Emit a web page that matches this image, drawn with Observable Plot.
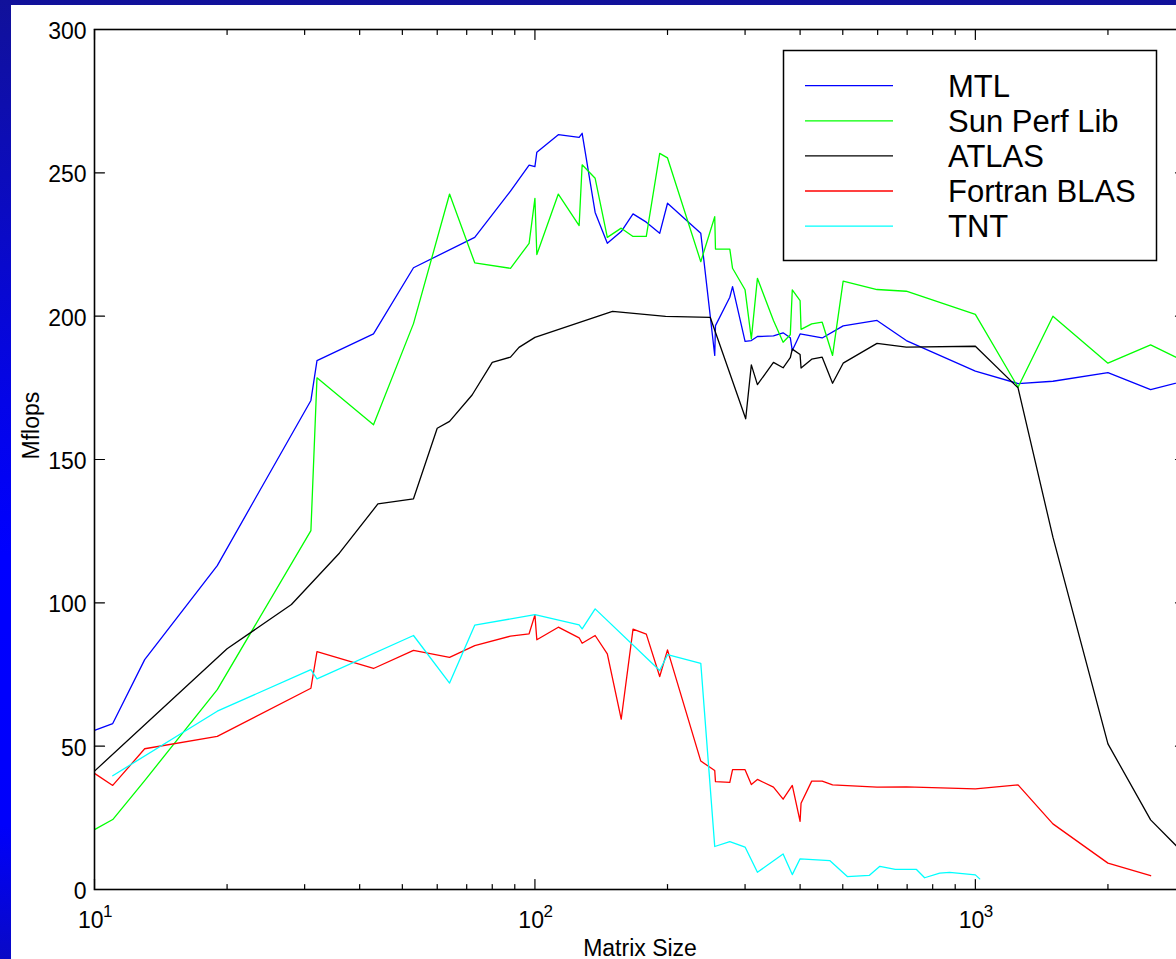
<!DOCTYPE html>
<html>
<head>
<meta charset="utf-8">
<script src="https://cdn.jsdelivr.net/npm/d3@7"></script>
<script src="https://cdn.jsdelivr.net/npm/@observablehq/plot@0.6"></script>
<style>
  html, body { margin: 0; padding: 0; width: 1176px; height: 959px; overflow: hidden; }
  body {
    position: relative;
    background: linear-gradient(to bottom, #11119a 0%, #0b0bc2 22%, #0404e8 42%, #0000ff 58%, #0000fb 86%, #0909c6 100%);
    font-family: "Liberation Sans", Arial, Helvetica, sans-serif;
  }
  #panel { position: absolute; left: 11px; top: 5px; right: 0; bottom: 0; background: #ffffff; }
  #chart { position: absolute; left: 0; top: 0; width: 1176px; height: 959px; overflow: hidden; }
  #legend { position: absolute; left: 0; top: 0; }
</style>
</head>
<body>
<div id="panel"></div>
<div id="chart"></div>
<div id="legend"></div>
<script>
// ---------------- data ----------------
const seriesNames  = ["MTL", "Sun Perf Lib", "ATLAS", "Fortran BLAS", "TNT"];
const seriesColors = ["#0000ff", "#00ff00", "#000000", "#ff0000", "#00ffff"];

const mtlSize   = [10,11,13,19,31,32,43,53,73,88,97,100,101,113,126,128,137,146,157,167,179,192,200,238,256,257,277,281,300,310,320,348,366,380,384,400,449,501,598,697,1000,1250,1500,2000,2500,3000];
const mtlMflops = [55.5,57.9,80.2,113,170.6,184.5,193.8,216.9,227.5,243.6,252.7,252.2,257.2,263.3,262.4,263.8,236.2,225.4,229.5,235.7,232.8,228.9,239.4,228.9,186.3,196.7,206.6,210.3,191.2,191.5,192.9,193.1,194.2,192.5,188,193.8,192.4,196.6,198.5,191.5,180.8,176.5,177.3,180.3,174.4,177.5];

const sunSize   = [10,11,13,19,31,32,43,53,64,73,88,97,100,101,113,126,128,137,146,157,167,179,192,200,238,256,257,277,281,300,310,320,348,366,380,384,400,402,425,449,474,501,598,697,1000,1250,1500,2000,2500,3000];
const sunMflops = [20.9,24.4,38,69.7,125.2,178.5,162.1,197.4,242.6,218.6,216.7,225.4,241.1,221.5,242.6,231.6,252.8,248.1,227.5,230.7,227.8,227.8,256.8,255.2,219,234.7,223.4,223.4,216.7,209.2,192.1,213.2,198.5,190.9,193.5,209.2,205.4,195.4,197.3,197.9,186.3,212.2,209.3,208.7,200.6,175.2,200,183.6,190,184];

const atlasSize   = [10,20,28,36,44,53,60,64,72,80,88,92,100,150,198,250,301,310,320,348,366,380,384,400,402,425,449,474,501,598,697,1000,1250,1500,2000,2500,3000];
const atlasMflops = [41.3,84,99.4,117.4,134.5,136.3,160.9,163.3,172.5,183.9,185.7,189.1,192.6,201.7,199.9,199.6,164.2,183,176.1,183.9,182,185.5,188.5,186.6,181.9,185,185.7,176.6,183.6,190.5,189.2,189.5,175,122.9,50.8,24.3,12];

const blasSize   = [10,11,13,19,31,32,43,53,64,73,88,97,100,101,113,126,128,137,146,157,167,179,192,200,238,256,257,277,281,300,310,320,348,366,384,400,402,425,449,474,598,697,1000,1250,1500,2000,2500];
const blasMflops = [40.5,36.3,49.1,53.4,70.2,83,77.1,83.4,81,85.1,88.4,89.2,95.8,87.1,91.5,87.8,85.9,88.6,82.2,59.4,90.8,89.1,74.3,83.6,44.8,41.5,37.6,37.4,41.8,41.8,36.6,38.4,35.7,31.5,36.3,23.8,30.1,37.8,37.8,36.5,35.7,35.8,35.1,36.5,22.9,9.2,4.8];

const tntSize   = [11,19,31,32,53,64,73,100,126,128,137,192,200,238,256,277,300,320,366,384,400,467,512,574,607,658,735,767,830,874,1000,1023];
const tntMflops = [39.7,62.2,76.7,73.5,88.6,72,92.2,95.9,92.3,90.9,97.9,76.4,81.9,78.9,15,16.7,14.8,6,12.4,5.2,10.7,10.1,4.5,4.9,8.1,7,7,4.1,5.7,6,5.1,3.7];

const yTicks     = [0, 50, 100, 150, 200, 250, 300];
const xMajor     = [10, 100, 1000];
const xMinor     = [20,30,40,50,60,70,80,90,200,300,400,500,600,700,800,900,2000];
const xTickBase  = ["10", "10", "10"];
const xTickExp   = ["1", "2", "3"];
const xLabel = "Matrix Size";
const yLabel = "Mflops";

// ---------------- build table ----------------
const sizes  = [mtlSize, sunSize, atlasSize, blasSize, tntSize];
const values = [mtlMflops, sunMflops, atlasMflops, blasMflops, tntMflops];
const rows = [];
seriesNames.forEach((name, s) => {
  sizes[s].forEach((n, i) => rows.push({series: name, n, v: values[s][i]}));
});
const xMajorRows = xMajor.map((x, i) => ({x, base: xTickBase[i], exp: xTickExp[i]}));

// straight tick shape for vectors (drawn upward, then rotated)
const tickShape = { draw(ctx, l) { ctx.moveTo(0, 0); ctx.lineTo(0, -l); } };

const FONT = "Liberation Sans, Arial, Helvetica, sans-serif";
const W = 1200;

const chart = Plot.plot({
  width: W,
  height: 959,
  marginLeft: 94,
  marginRight: W - 1185,
  marginTop: 29,
  marginBottom: 70,
  x: {type: "log", domain: [10, 3000], axis: null},
  y: {domain: [0, 300], axis: null},
  color: {domain: seriesNames, range: seriesColors},
  style: {background: "transparent", maxWidth: "none", fontFamily: FONT, color: "black", overflow: "visible"},
  marks: [
    Plot.line(rows, {x: "n", y: "v", z: "series", stroke: "series", strokeWidth: 1.3, clip: true}),
    // ticks
    Plot.vector(yTicks, {y: d => d, frameAnchor: "left", rotate: 90, length: 10, anchor: "start", shape: tickShape, stroke: "black", strokeWidth: 1.2}),
    Plot.vector(yTicks, {y: d => d, frameAnchor: "right", rotate: -90, length: 10, anchor: "start", shape: tickShape, stroke: "black", strokeWidth: 1.2}),
    Plot.vector(xMajor, {x: d => d, frameAnchor: "bottom", rotate: 0, length: 10, anchor: "start", shape: tickShape, stroke: "black", strokeWidth: 1.2}),
    Plot.vector(xMajor, {x: d => d, frameAnchor: "top", rotate: 180, length: 10, anchor: "start", shape: tickShape, stroke: "black", strokeWidth: 1.2}),
    Plot.vector(xMinor, {x: d => d, frameAnchor: "bottom", rotate: 0, length: 5, anchor: "start", shape: tickShape, stroke: "black", strokeWidth: 1.2}),
    Plot.vector(xMinor, {x: d => d, frameAnchor: "top", rotate: 180, length: 5, anchor: "start", shape: tickShape, stroke: "black", strokeWidth: 1.2}),
    Plot.frame({stroke: "black", strokeWidth: 1.6}),
    // tick labels
    Plot.text(yTicks, {y: d => d, text: d => String(d), frameAnchor: "left", dx: -8, dy: 2, textAnchor: "end", fontSize: 23, fill: "black"}),
    Plot.text(xMajorRows, {x: "x", text: "base", frameAnchor: "bottom", dy: 38, lineAnchor: "bottom", textAnchor: "end", dx: 9, fontSize: 23, fill: "black"}),
    Plot.text(xMajorRows, {x: "x", text: "exp", frameAnchor: "bottom", dy: 27, lineAnchor: "bottom", textAnchor: "start", dx: 8.5, fontSize: 17, fill: "black"}),
    // axis titles
    Plot.text([xLabel], {text: d => d, frameAnchor: "bottom", dy: 66, lineAnchor: "bottom", fontSize: 23, fill: "black"}),
    Plot.text([yLabel], {text: d => d, frameAnchor: "left", dx: -63, rotate: -90, fontSize: 23, fill: "black"})
  ]
});
document.getElementById("chart").append(chart);

// ---------------- legend (inside the axes, top right) ----------------
const lg = d3.select("#legend").append("svg")
  .attr("width", 1176).attr("height", 300)
  .style("display", "block")
  .style("font-family", FONT);
lg.append("rect")
  .attr("x", 783.5).attr("y", 50.5).attr("width", 373).attr("height", 210)
  .attr("fill", "white").attr("stroke", "black").attr("stroke-width", 1.5);
const items = lg.selectAll("g.item").data(seriesNames).join("g")
  .attr("class", "item")
  .attr("transform", (d, i) => `translate(0, ${85.7 + i * 35.1})`);
items.append("line")
  .attr("x1", 805).attr("x2", 893).attr("y1", 0).attr("y2", 0)
  .attr("stroke", (d, i) => seriesColors[i]).attr("stroke-width", 1.3);
items.append("text")
  .attr("x", 948).attr("y", 11)
  .attr("font-size", 31).attr("fill", "black")
  .text(d => d);
</script>
</body>
</html>
